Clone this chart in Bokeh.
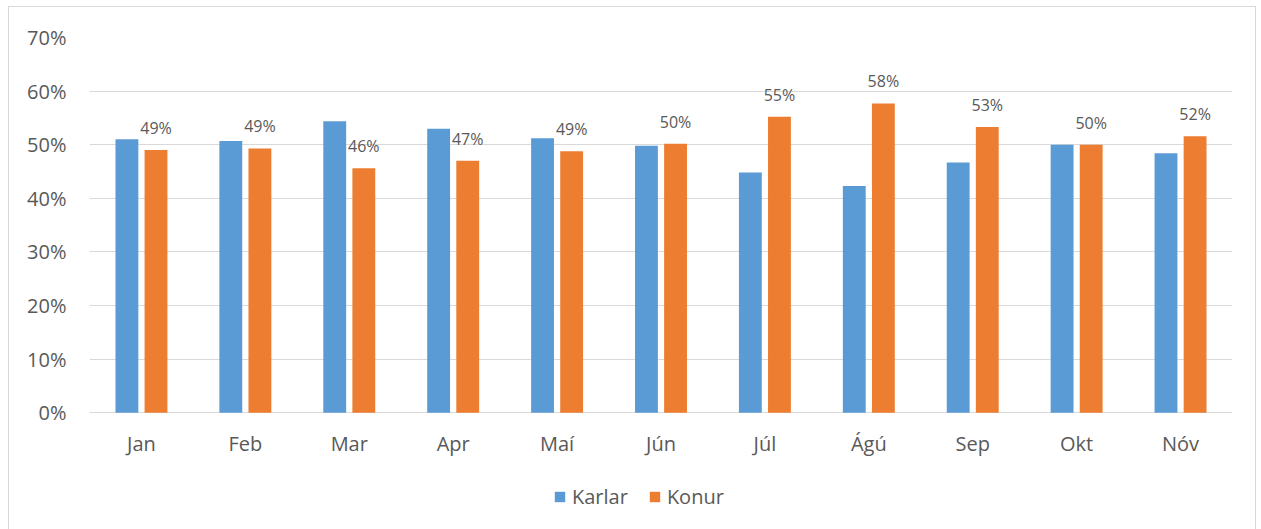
from bokeh.plotting import figure
from bokeh.models import ColumnDataSource, FactorRange, Range1d, FixedTicker, NumeralTickFormatter, LabelSet, Legend, LegendItem
from bokeh.transform import dodge
from bokeh.core.properties import value
from bokeh.embed import file_html
from bokeh.resources import INLINE

months = ["Jan", "Feb", "Mar", "Apr", "Maí", "Jún", "Júl", "Ágú", "Sep", "Okt", "Nóv"]
karlar = [0.510, 0.507, 0.544, 0.530, 0.512, 0.498, 0.448, 0.423, 0.467, 0.500, 0.484]
konur = [0.490, 0.493, 0.456, 0.470, 0.488, 0.502, 0.552, 0.577, 0.533, 0.500, 0.516]
konur_labels = ["49%", "49%", "46%", "47%", "49%", "50%", "55%", "58%", "53%", "50%", "52%"]
y_ticks = [0, 0.1, 0.2, 0.3, 0.4, 0.5, 0.6, 0.7]

FONT = "Open Sans"
GRAY = "#595959"

src = ColumnDataSource(dict(month=months, karlar=karlar, konur=konur, lab=konur_labels,
                            zero=[0] * len(months)))

# frame extends below the 0% line to host the category labels and the legend
Y_TOP = 0.7
Y_BOTTOM = -Y_TOP * 119 / 376

p = figure(width=1248, height=524, x_range=FactorRange(*months), y_range=Range1d(Y_BOTTOM, Y_TOP),
           output_backend="svg", toolbar_location=None,
           min_border_left=80, min_border_right=25, min_border_top=30, min_border_bottom=0)
p.styles = {"border": "1px solid #d9d9d9", "margin-left": "8px", "margin-top": "6px"}
p.outline_line_color = None

r1 = p.vbar(x=dodge("month", -0.14, range=p.x_range), top="karlar", width=0.22, source=src,
            fill_color="#5b9bd5", line_color=None)
r2 = p.vbar(x=dodge("month", 0.14, range=p.x_range), top="konur", width=0.22, source=src,
            fill_color="#ed7d31", line_color=None)

labels = LabelSet(x=dodge("month", 0.14, range=p.x_range), y="konur", text="lab", source=src,
                  text_align="center", text_baseline="middle", y_offset=22,
                  text_font=value(FONT), text_font_size="16px", text_color=GRAY)
p.add_layout(labels)

cat_labels = LabelSet(x="month", y="zero", text="month", source=src,
                      text_align="center", text_baseline="middle", y_offset=-31,
                      text_font=value(FONT), text_font_size="20px", text_color=GRAY)
p.add_layout(cat_labels)

p.yaxis.ticker = FixedTicker(ticks=y_ticks)
p.yaxis.formatter = NumeralTickFormatter(format="0%")
p.yaxis.axis_line_color = None
p.yaxis.major_tick_line_color = None
p.yaxis.minor_tick_line_color = None
p.yaxis.major_label_standoff = 17
p.yaxis.major_label_text_font = FONT
p.yaxis.major_label_text_font_size = "20px"
p.yaxis.major_label_text_color = GRAY

p.xaxis.visible = False

p.xgrid.grid_line_color = None
p.ygrid.grid_line_color = "#d9d9d9"
p.ygrid.grid_line_width = 1

legend = Legend(items=[LegendItem(label="Karlar", renderers=[r1]), LegendItem(label="Konur", renderers=[r2])],
                orientation="horizontal", location=(464, 21), margin=0, padding=0,
                glyph_width=13, glyph_height=13, spacing=20, label_standoff=6,
                label_text_font=FONT, label_text_font_size="20px", label_text_color=GRAY,
                border_line_color=None, background_fill_alpha=0)
p.add_layout(legend, "center")

open("out.html", "w").write(file_html(p, INLINE))
